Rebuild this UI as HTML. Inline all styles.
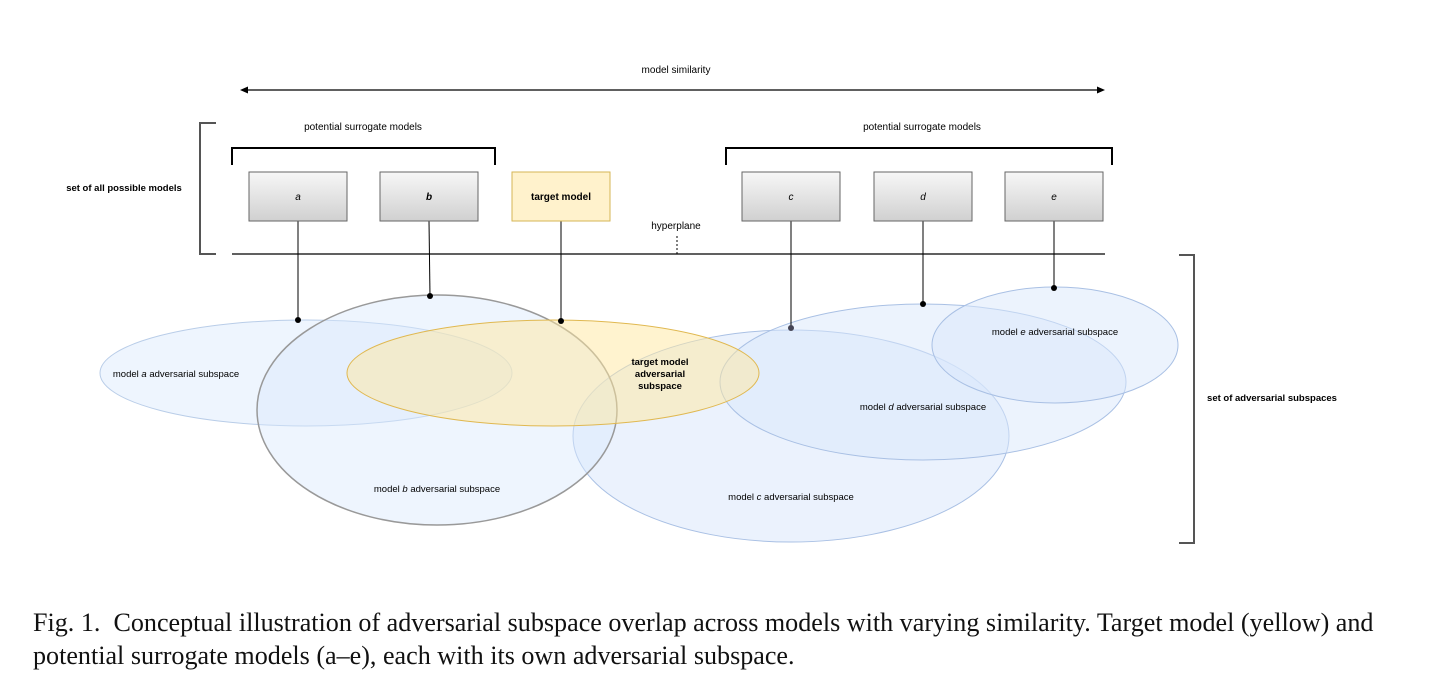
<!DOCTYPE html>
<html><head><meta charset="utf-8"><style>
body{margin:0;background:#fff;}
.cap{position:absolute;left:33px;top:606px;white-space:nowrap;font-family:"Liberation Serif",serif;font-size:26.1px;line-height:33px;color:#111;}
</style></head><body>
<svg width="1456" height="690" style="position:absolute;left:0;top:0" font-family="Liberation Sans, sans-serif">
<defs>
<linearGradient id="g" x1="0" y1="0" x2="0" y2="1"><stop offset="0" stop-color="#f7f7f7"/><stop offset="1" stop-color="#d0d0d0"/></linearGradient>
</defs>
<text x="676" y="73" font-size="10" text-anchor="middle">model similarity</text>
<line x1="246" y1="90" x2="1099" y2="90" stroke="#000" stroke-width="1.2"/>
<path d="M248,86.5 L240,90 L248,93.5 Z" fill="#000"/>
<path d="M1097,86.5 L1105,90 L1097,93.5 Z" fill="#000"/>
<text x="363" y="130" font-size="10" text-anchor="middle">potential surrogate models</text>
<text x="922" y="130" font-size="10" text-anchor="middle">potential surrogate models</text>
<path d="M232,165 V148 H495 V165" fill="none" stroke="#000" stroke-width="2"/>
<path d="M726,165 V148 H1112 V165" fill="none" stroke="#000" stroke-width="2"/>
<path d="M216,123 H200 V254 H216" fill="none" stroke="#555" stroke-width="2"/>
<path d="M1179,255 H1194 V543 H1179" fill="none" stroke="#555" stroke-width="2"/>
<text x="124" y="191" font-size="9.5" font-weight="bold" text-anchor="middle">set of all possible models</text>
<text x="1272" y="401" font-size="9.5" font-weight="bold" text-anchor="middle">set of adversarial subspaces</text>
<line x1="232" y1="254" x2="1105" y2="254" stroke="#000" stroke-width="1.2"/>
<line x1="677" y1="236" x2="677" y2="254" stroke="#000" stroke-dasharray="2,2"/>
<text x="676" y="229" font-size="10" text-anchor="middle">hyperplane</text>
<ellipse cx="306" cy="373" rx="206" ry="53" fill="rgba(218,232,252,0.45)" stroke="#b9cde8"/>
<ellipse cx="791" cy="436" rx="218" ry="106" fill="rgba(218,232,252,0.55)" stroke="#a9c0e4"/>
<ellipse cx="923" cy="382" rx="203" ry="78" fill="rgba(218,232,252,0.5)" stroke="#a9c0e4"/>
<ellipse cx="1055" cy="345" rx="123" ry="58" fill="rgba(218,232,252,0.5)" stroke="#a9c0e4"/>
<ellipse cx="437" cy="410" rx="180" ry="115" fill="rgba(218,232,252,0.45)" stroke="#999" stroke-width="1.5"/>
<ellipse cx="553" cy="373" rx="206" ry="53" fill="rgba(255,232,160,0.5)" stroke="#e0b850"/>
<text x="176" y="377" font-size="9.5" text-anchor="middle">model <tspan font-style="italic">a</tspan> adversarial subspace</text>
<text x="437" y="492" font-size="9.5" text-anchor="middle">model <tspan font-style="italic">b</tspan> adversarial subspace</text>
<text x="660" y="365" font-size="9.5" font-weight="bold" text-anchor="middle">target model</text>
<text x="660" y="377" font-size="9.5" font-weight="bold" text-anchor="middle">adversarial</text>
<text x="660" y="389" font-size="9.5" font-weight="bold" text-anchor="middle">subspace</text>
<text x="791" y="500" font-size="9.5" text-anchor="middle">model <tspan font-style="italic">c</tspan> adversarial subspace</text>
<text x="923" y="410" font-size="9.5" text-anchor="middle">model <tspan font-style="italic">d</tspan> adversarial subspace</text>
<text x="1055" y="335" font-size="9.5" text-anchor="middle">model <tspan font-style="italic">e</tspan> adversarial subspace</text>
<g stroke="#000" stroke-width="1">
<line x1="298" y1="221" x2="298" y2="320"/>
<line x1="429" y1="221" x2="430" y2="296"/>
<line x1="561" y1="221" x2="561" y2="321"/>
<line x1="791" y1="221" x2="791" y2="328"/>
<line x1="923" y1="221" x2="923" y2="304"/>
<line x1="1054" y1="221" x2="1054" y2="288"/>
</g>
<g fill="#000"><circle cx="298" cy="320" r="3"/><circle cx="430" cy="296" r="3"/><circle cx="561" cy="321" r="3"/><circle cx="791" cy="328" r="3" fill="#445"/><circle cx="923" cy="304" r="3"/><circle cx="1054" cy="288" r="3"/></g>
<g stroke="#666" stroke-width="1">
<rect x="249" y="172" width="98" height="49" fill="url(#g)"/>
<rect x="380" y="172" width="98" height="49" fill="url(#g)"/>
<rect x="742" y="172" width="98" height="49" fill="url(#g)"/>
<rect x="874" y="172" width="98" height="49" fill="url(#g)"/>
<rect x="1005" y="172" width="98" height="49" fill="url(#g)"/>
</g>
<rect x="512" y="172" width="98" height="49" fill="#fff2cc" stroke="#d6b656"/>
<g font-size="10" text-anchor="middle" font-style="italic">
<text x="298" y="200">a</text><text x="429" y="200" font-weight="bold">b</text>
<text x="791" y="200">c</text><text x="923" y="200">d</text><text x="1054" y="200">e</text>
</g>
<text x="561" y="200" font-size="10" font-weight="bold" text-anchor="middle">target model</text>
</svg>
<div class="cap">Fig. 1.&nbsp; Conceptual illustration of adversarial subspace overlap across models with varying similarity. Target model (yellow) and<br>potential surrogate models (a–e), each with its own adversarial subspace.</div>
</body></html>
